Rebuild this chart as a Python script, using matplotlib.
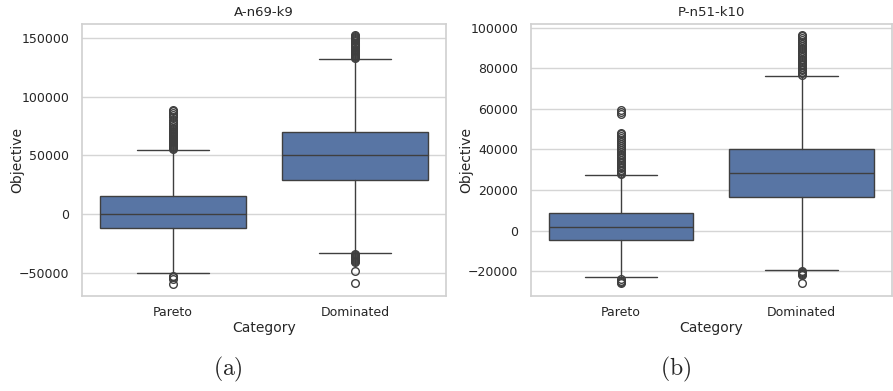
import matplotlib
matplotlib.use("Agg")
import matplotlib.pyplot as plt
import seaborn as sns

# categories and box statistics
categories = ["Pareto", "Dominated"]

# panel (a): A-n69-k9
a_title = "A-n69-k9"
a_med = [600, 50000]
a_q1 = [-11700, 29000]
a_q3 = [15100, 70100]
a_whislo = [-49700, -33200]
a_whishi = [55000, 132300]
a_fliers = [
    [55800, 56500, 57300, 58000, 58800, 59600, 60400, 61200, 62000, 62900, 63700,
     64500, 65400, 66200, 67100, 68000, 69000, 70000, 71000, 72200, 73500, 75000,
     76500, 78500, 80500, 82500, 84500, 86500, 88000, 88600,
     -52500, -53800, -55000, -59400],
    [133000, 133800, 134600, 135400, 136300, 137200, 138100, 139000, 140000, 141000,
     142000, 143000, 144000, 145000, 146000, 147000, 148000, 149000, 150000, 151000,
     152000, 152500,
     -33900, -34700, -35500, -36300, -37100, -37900, -38700, -39500, -40300,
     -48600, -58200],
]

# panel (b): P-n51-k10
b_title = "P-n51-k10"
b_med = [1700, 28600]
b_q1 = [-4600, 16400]
b_q3 = [8600, 40200]
b_whislo = [-23100, -19500]
b_whishi = [27300, 76200]
b_fliers = [
    [27800, 28500, 29200, 30000, 30800, 31600, 32400, 33200, 34000, 34800, 35600,
     36400, 37200, 38000, 38800, 39600, 40500, 41500, 42500, 43500, 44500, 45500,
     46500, 47500, 48300, 57500, 58500, 59500,
     -24000, -24700, -25400, -26000],
    [76800, 77500, 78300, 79100, 79900, 80700, 81500, 82300, 83100, 84000, 84900,
     85800, 86700, 87600, 88500, 89400, 90300, 91200, 92100, 93000, 94000, 95000,
     95800, 96400,
     -20100, -20600, -21100, -21600, -22100, -25900],
]

sns.set_theme(style="whitegrid")
plt.rcParams["mathtext.fontset"] = "cm"

fig = plt.figure(figsize=(8.93, 3.91), dpi=100)
ax1 = fig.add_axes([0.0918, 0.243, 0.4076, 0.696])
ax2 = fig.add_axes([0.5946, 0.243, 0.404, 0.696])

box_color = "#5875a4"
line_color = "#3f3f3f"


def draw(ax, title, med, q1, q3, lo, hi, fliers, ylim, yticks):
    stats = []
    for i in range(len(categories)):
        stats.append({"med": med[i], "q1": q1[i], "q3": q3[i],
                      "whislo": lo[i], "whishi": hi[i], "fliers": fliers[i],
                      "label": categories[i]})
    ax.bxp(stats, positions=range(len(categories)), widths=0.8, patch_artist=True,
           boxprops=dict(facecolor=box_color, edgecolor=line_color, linewidth=1.0),
           medianprops=dict(color=line_color, linewidth=1.0),
           whiskerprops=dict(color=line_color, linewidth=1.0),
           capprops=dict(color=line_color, linewidth=1.0),
           capwidths=0.4,
           flierprops=dict(marker="o", markerfacecolor="none",
                           markeredgecolor=line_color, markersize=5.5,
                           markeredgewidth=1.0))
    ax.set_xlim(-0.5, 1.5)
    ax.set_ylim(*ylim)
    ax.set_yticks(yticks)
    ax.set_xticks(range(len(categories)))
    ax.set_xticklabels(categories)
    ax.grid(axis="x", visible=False)
    ax.grid(axis="y", color="#d5d5d5", linewidth=1.0)
    ax.tick_params(labelsize=9, colors="#262626", pad=3)
    ax.tick_params(axis="x", pad=1)
    ax.set_title(title, fontsize=9.5, color="#262626", pad=6)
    ax.set_xlabel("Category", fontsize=10, color="#262626", labelpad=1.5)
    ax.set_ylabel("Objective", fontsize=10, color="#262626", labelpad=-4)
    for s in ax.spines.values():
        s.set_color("#d0d0d0")
        s.set_linewidth(1.2)


draw(ax1, a_title, a_med, a_q1, a_q3, a_whislo, a_whishi, a_fliers,
     (-69600, 162000), [-50000, 0, 50000, 100000, 150000])
draw(ax2, b_title, b_med, b_q1, b_q3, b_whislo, b_whishi, b_fliers,
     (-32300, 102000), [-20000, 0, 20000, 40000, 60000, 80000, 100000])

fig.text(0.255, 0.054, r"$\mathrm{(a)}$", fontsize=17, ha="center", va="center")
fig.text(0.757, 0.054, r"$\mathrm{(b)}$", fontsize=17, ha="center", va="center")

fig.savefig("out.png", dpi=100)
